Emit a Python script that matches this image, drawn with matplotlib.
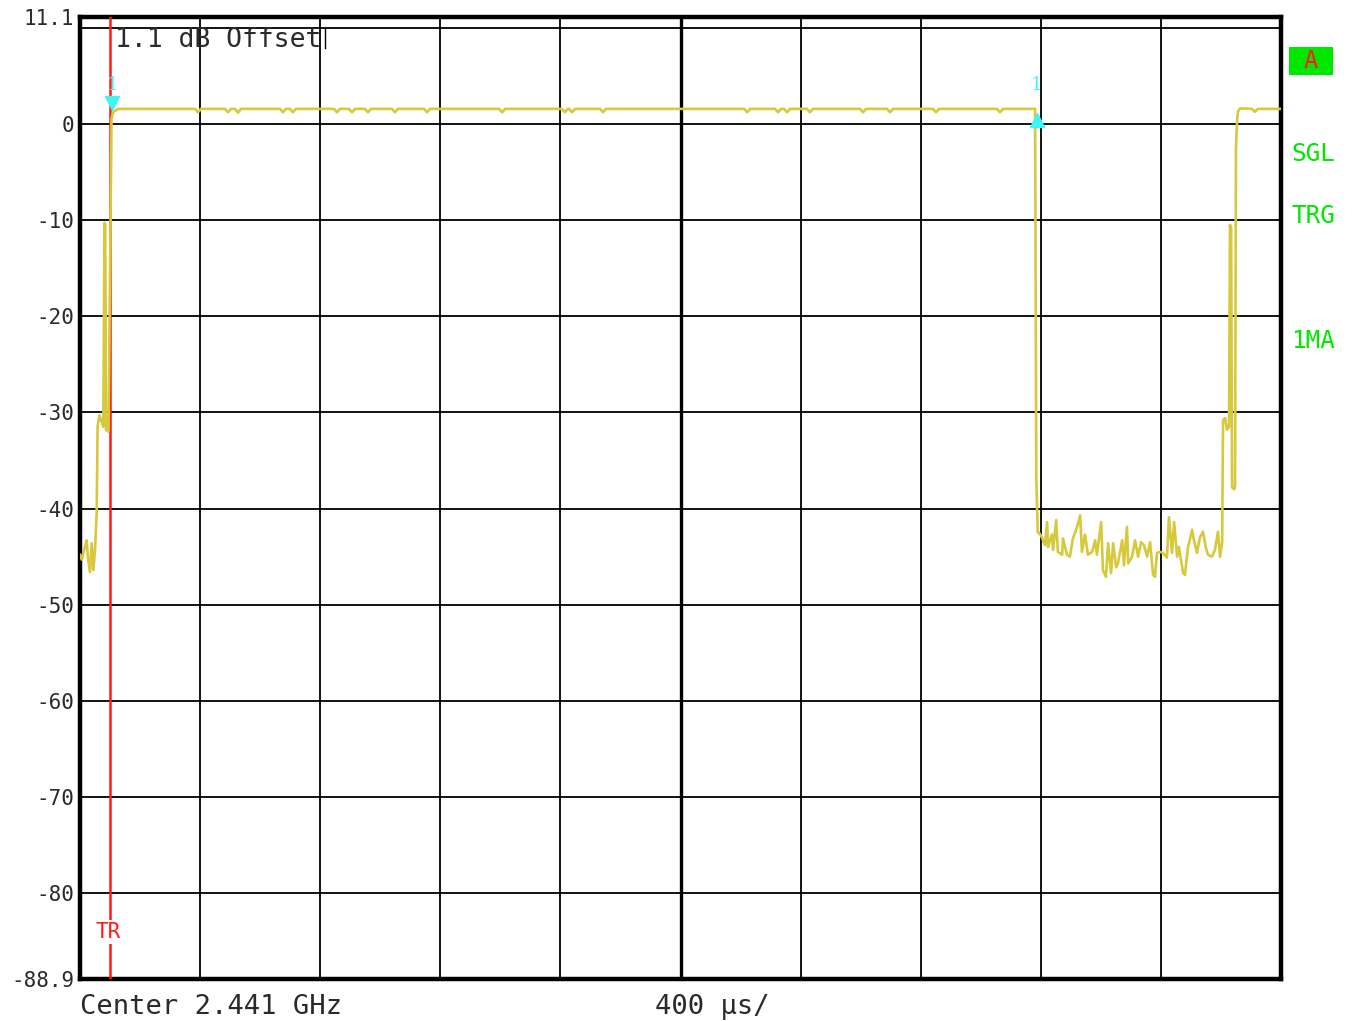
"""Zero-span power vs time screen (spectrum analyzer style), 400 us/div."""

import matplotlib

matplotlib.use("Agg")
import matplotlib.pyplot as plt
from matplotlib.patches import Rectangle

# --- data (time in us, level in dB) ---
REF_TOP = 11.1
REF_BOTTOM = -88.9
SWEEP_US = 4000.0
DIV_US = 400.0

grid_levels = [10, 0, -10, -20, -30, -40, -50, -60, -70, -80]
ytick_values = [11.1, 0, -10, -20, -30, -40, -50, -60, -70, -80, -88.9]
ytick_labels = ["11.1", "0", "-10", "-20", "-30", "-40", "-50", "-60", "-70", "-80", "-88.9"]

trace_t = [
    0, 5.7, 16.7, 22, 26.6, 33, 38.9, 44.4, 50, 55.5, 58.6, 64.3, 72.3, 77.6,
    81.6, 84.0, 86.6, 95, 101.6, 105, 110, 126.6,
    383, 393, 403, 483, 493, 503, 516, 526, 536, 666, 676, 686, 699, 709, 719,
    846, 856, 866, 896, 906, 916, 949, 959, 969, 1039, 1049, 1059,
    1146, 1156, 1166, 1396, 1406, 1416, 1605, 1615, 1625, 1629, 1639, 1649,
    1732, 1742, 1752, 2212, 2222, 2232, 2315, 2325, 2335, 2345, 2355, 2365,
    2421, 2431, 2441, 2598, 2608, 2618, 2688, 2698, 2708, 2841, 2851, 2861,
    3054, 3064, 3074, 3181, 3185,
    3190, 3194, 3204, 3214, 3221, 3224, 3237, 3241, 3251, 3257, 3271, 3274,
    3287, 3297, 3307, 3321, 3331, 3337, 3347, 3357, 3371, 3381, 3387, 3401,
    3407, 3417, 3424, 3434, 3441, 3451, 3457, 3471, 3477, 3487, 3491, 3504,
    3514, 3524, 3534, 3544, 3554, 3564, 3574, 3580, 3587, 3597, 3607, 3620,
    3627, 3637, 3644, 3654, 3660, 3674, 3680, 3690, 3704, 3710, 3720, 3730,
    3740, 3750, 3757, 3770, 3780, 3790, 3797, 3804,
    3807, 3814, 3820, 3827, 3830, 3834, 3837, 3844, 3847, 3850, 3854, 3857,
    3864, 3903, 3913, 3923, 4000,
]
trace_db = [
    -44.8, -45.3, -44.0, -43.3, -45.1, -46.6, -43.6, -46.4, -44.3, -40.5, -31.5, -30.3, -31.0, -31.5,
    -10.3, -10.5, -31.8, -32.0, -10.0, 0.5, 1.2, 1.55,
    1.55, 1.2, 1.55, 1.55, 1.2, 1.55, 1.55, 1.15, 1.55, 1.55, 1.2, 1.55, 1.55, 1.2, 1.55,
    1.55, 1.2, 1.55, 1.55, 1.2, 1.55, 1.55, 1.2, 1.55, 1.55, 1.2, 1.55,
    1.55, 1.2, 1.55, 1.55, 1.2, 1.55, 1.55, 1.2, 1.55, 1.55, 1.2, 1.55,
    1.55, 1.2, 1.55, 1.55, 1.2, 1.55, 1.55, 1.2, 1.55, 1.55, 1.2, 1.55,
    1.55, 1.2, 1.55, 1.55, 1.2, 1.55, 1.55, 1.2, 1.55, 1.55, 1.2, 1.55,
    1.55, 1.2, 1.55, 1.55, -37.0,
    -42.5, -42.5, -43.0, -43.8, -41.4, -44.0, -42.7, -44.3, -41.2, -44.5, -44.8, -43.1,
    -44.8, -45.0, -43.1, -41.9, -40.7, -44.5, -42.7, -44.8, -44.5, -43.3, -44.8, -41.4,
    -46.4, -47.1, -43.6, -46.7, -43.6, -46.1, -45.7, -43.3, -45.9, -41.9, -45.7, -45.0,
    -43.3, -45.0, -43.5, -43.8, -45.0, -43.5, -46.9, -47.1, -44.6, -44.5, -44.6, -45.1,
    -40.9, -44.6, -41.4, -45.0, -44.0, -46.7, -46.9, -44.1, -42.2, -43.3, -44.6, -43.0,
    -42.4, -44.1, -44.8, -45.0, -44.3, -42.4, -45.0, -43.5,
    -30.8, -30.6, -31.8, -31.5, -10.5, -10.8, -37.8, -38.0, -37.6, -2.5, 0.5, 1.3,
    1.6, 1.55, 1.25, 1.55, 1.55,
]

trigger_us = 100.0
marker_t = [107.0, 3187.0]
marker_db = [2.2, 0.4]
marker_shapes = ["v", "^"]
marker_label_db = 4.0

side_labels = [("SGL", 154), ("TRG", 216), ("1MA", 341)]

TRACE_COLOR = "#d6c93c"
MARK_COLOR = "#3ff4f4"
GREEN = "#00e800"
TEXT_COLOR = "#2a2a2a"
MONO = "DejaVu Sans Mono"

W, H = 1353, 1021
fig = plt.figure(figsize=(W / 100, H / 100), dpi=100)
ax = fig.add_axes([80 / W, 1 - 979 / H, 1201 / W, 962 / H])

ax.set_xlim(0, SWEEP_US)
ax.set_ylim(REF_BOTTOM, REF_TOP)

# graticule
for k in range(1, int(SWEEP_US / DIV_US)):
    lw = 2.4 if k == 5 else 1.3
    ax.axvline(k * DIV_US, color="black", linewidth=lw, zorder=1)
for lev in grid_levels:
    ax.axhline(lev, color="black", linewidth=1.3, zorder=1)

for sp in ax.spines.values():
    sp.set_linewidth(3.2)
    sp.set_color("black")

ax.set_xticks([])
ax.set_yticks(ytick_values, ytick_labels)
ax.tick_params(axis="y", length=0, pad=4, labelsize=15, labelcolor=TEXT_COLOR)
for lab in ax.get_yticklabels():
    lab.set_family(MONO)

# trigger line
ax.axvline(trigger_us, color="#ff1a1a", linewidth=1.8, zorder=3)
ax.text(trigger_us - 7, -84.0, "TR", color="#ff1a1a", fontsize=15, family=MONO,
        ha="center", va="center", zorder=4,
        bbox=dict(facecolor="white", edgecolor="none", pad=1.5))

# trace
ax.plot(trace_t, trace_db, color=TRACE_COLOR, linewidth=1.9, zorder=5)

# markers
for t, d, m in zip(marker_t, marker_db, marker_shapes):
    ax.plot([t], [d], marker=m, markersize=10, color=MARK_COLOR, linestyle="none", zorder=6)
    ax.text(t, marker_label_db, "1", color=MARK_COLOR, fontsize=13, family="DejaVu Serif",
            ha="center", va="center", zorder=6)

# offset annotation
ax.text(0.029, 0.976, "1.1 dB Offset", transform=ax.transAxes, fontsize=19,
        family=MONO, color=TEXT_COLOR, ha="left", va="center", zorder=4)
ax.plot([816, 816], [10.0, 7.9], color="black", linewidth=1.0, zorder=2)

# right side status labels
fig.patches.append(Rectangle((1289 / W, 1 - 75 / H), 44 / W, 28 / H,
                             transform=fig.transFigure, facecolor=GREEN, edgecolor="none"))
fig.text(1311 / W, 1 - 61 / H, "A", color="#ff1a1a", fontsize=17, family=MONO,
         ha="center", va="center")
for txt, ypix in side_labels:
    fig.text(1313 / W, 1 - ypix / H, txt, color=GREEN, fontsize=17.5, family=MONO,
             ha="center", va="center")

# bottom labels
fig.text(80 / W, 1 - 1007 / H, "Center 2.441 GHz", fontsize=19.5, family=MONO,
         color=TEXT_COLOR, ha="left", va="center")
fig.text(655 / W, 1 - 1007 / H, "400 µs/", fontsize=19.5, family=MONO,
         color=TEXT_COLOR, ha="left", va="center")

fig.savefig("out.png", dpi=100)
